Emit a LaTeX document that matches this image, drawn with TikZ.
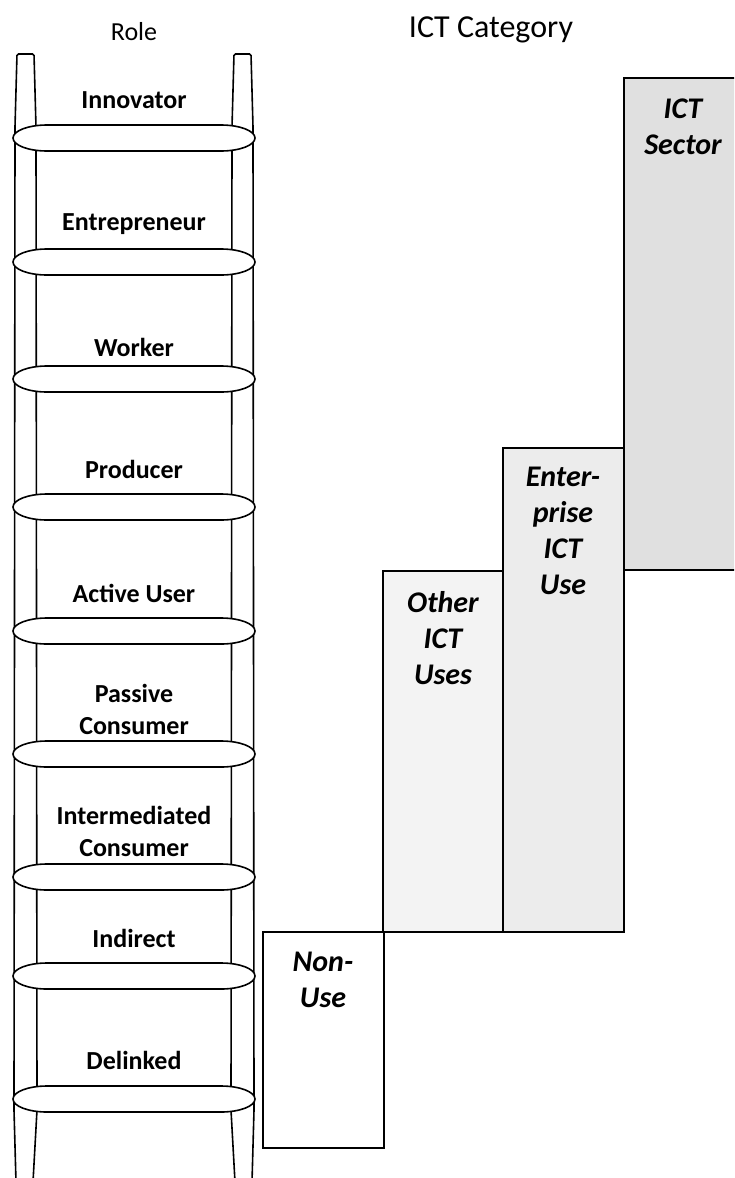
\documentclass[tikz,border=0pt]{standalone}
\usepackage{fontspec}
\setmainfont{Carlito}
\definecolor{otherfill}{HTML}{F3F3F3}
\definecolor{entfill}{HTML}{ECECEC}
\definecolor{sectorfill}{HTML}{E0E0E0}
\begin{document}
\begin{tikzpicture}[x=1pt,y=-1pt,
  rail/.style={draw=black, line width=1.6pt, rounded corners=1.5pt},
  rung/.style={draw=black, fill=white, line width=1.6pt},
  role/.style={font=\fontsize{26}{32}\selectfont\bfseries, align=center, inner sep=0pt},
  catbox/.style={draw=black, line width=1.8pt},
  catlabel/.style={font=\fontsize{30}{36}\selectfont\bfseries\itshape, align=center, inner sep=0pt},
  head/.style={font=\fontsize{26}{32}\selectfont, inner sep=0pt}]
\useasboundingbox (0,0) rectangle (734,1178);
\begin{scope}
\clip (0,0) rectangle (734,1178);
% category boxes
\filldraw[catbox, fill=sectorfill] (624,78) rectangle (744,570);
\filldraw[catbox, fill=entfill] (503,448) rectangle (624,932);
\filldraw[catbox, fill=otherfill] (383,571) rectangle (503,932);
\filldraw[catbox, fill=white] (263,932) rectangle (384,1148);
% ladder rails
\draw[rail] (16,1182) -- (14,1110) -- (15,127) -- (17,54) -- (34,54) -- (36,127) -- (37,1110) -- (33,1182);
\draw[rail] (252,1182) -- (254,1110) -- (253,127) -- (251,54) -- (234,54) -- (232,127) -- (231,1110) -- (235,1182);
% rungs
\foreach \y in {138,262,379,507,631,754,877,976,1099}{
  \draw[rung] (47,\y-13) -- (221,\y-13)
    arc[start angle=-90,end angle=90,x radius=34,y radius=13]
    -- (47,\y+13)
    arc[start angle=90,end angle=270,x radius=34,y radius=13] -- cycle;
}
\end{scope}
% headings
\node[head] (rolehead) at (134,32) {Role};
\node[head, font=\fontsize{32}{38}\selectfont] (cathead) at (491,30) {ICT Category};
% role labels
\node[role] (innovator) at (134,100) {Innovator};
\node[role] (entrepreneur) at (134,224) {Entrepreneur};
\node[role] (worker) at (134,347) {Worker};
\node[role] (producer) at (134,469) {Producer};
\node[role] (active) at (134,593) {Active User};
\node[role] (passive) at (134,709) {Passive\\Consumer};
\node[role] (intermediated) at (134,831) {Intermediated\\Consumer};
\node[role] (indirect) at (134,938) {Indirect};
\node[role] (delinked) at (134,1060) {Delinked};
% category labels
\node[catlabel] (sector) at (683,127) {ICT\\Sector};
\node[catlabel] (enterprise) at (563,531) {Enter-\\prise\\ICT\\Use};
\node[catlabel] (other) at (443,638) {Other\\ICT\\Uses};
\node[catlabel] (nonuse) at (323,980) {Non-\\Use};
\end{tikzpicture}
\end{document}
